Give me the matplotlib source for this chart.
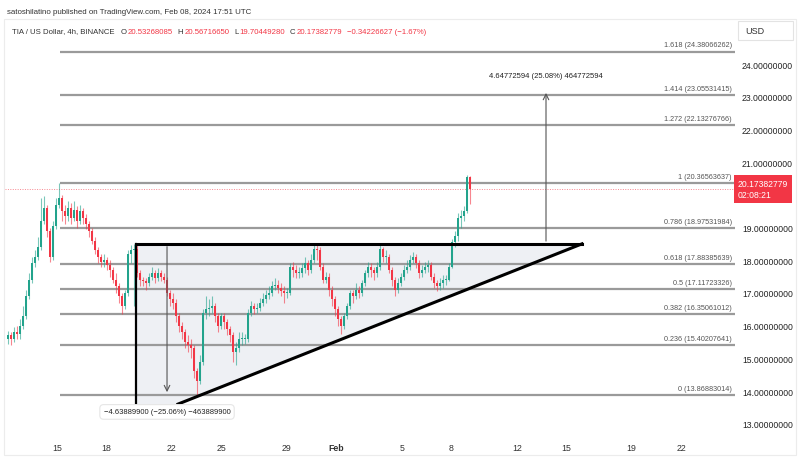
import matplotlib.pyplot as plt
import numpy as np
from matplotlib.patches import Polygon, Rectangle

plt.rcParams['font.family'] = ['Liberation Sans', 'DejaVu Sans']

# 4h candles, TIA/USD
closes = [15.7, 15.6, 15.8, 15.75, 16.0, 16.3, 16.9, 17.4, 17.9,
          18.1, 18.4, 19.2, 19.6, 18.9, 18.1, 19.05, 19.7,
          19.9, 19.5, 19.35, 19.6, 19.3, 19.55, 19.2, 19.5, 19.3, 19.1,
          18.9, 18.6, 18.3, 18.1, 17.95, 18.0, 17.85, 17.7, 17.4, 17.2,
          16.9, 16.6, 17.0, 18.2, 18.3, 18.35, 17.6, 17.4, 17.35, 17.3,
          17.5, 17.6, 17.45, 17.6, 17.5, 17.4, 17.0, 16.8, 16.7, 16.3,
          16.0, 15.8, 15.5, 15.4, 15.3, 14.6, 14.3, 14.9, 16.4, 16.5,
          16.55, 16.6, 16.3, 16.0, 16.3, 16.1, 15.9, 15.7, 15.2, 15.3,
          15.6, 15.6, 15.6, 16.4, 16.6, 16.5, 16.55, 16.7, 16.8, 16.95,
          17.0, 17.2, 17.25, 17.15, 17.05, 17.0, 17.0, 17.8, 17.7, 17.6,
          17.6, 17.75, 17.9, 17.7, 18.0, 18.35, 18.3, 17.8, 17.4, 17.5,
          17.1, 16.8, 16.5, 16.2, 16.0, 16.3, 16.6, 17.0, 16.9, 17.1,
          17.0, 17.3, 17.6, 17.8, 17.7, 17.6, 17.8, 18.35, 18.1, 18.1,
          17.7, 17.4, 17.1, 17.3, 17.5, 17.7, 17.8, 18.0, 18.1, 17.9,
          17.6, 17.7, 17.8, 17.85, 17.5, 17.3, 17.2, 17.3, 17.4, 17.4,
          17.8, 18.55, 18.75, 19.3, 19.35, 19.5, 20.53, 20.17382779]
highs = [15.85, 15.8, 15.95, 16.0, 16.2, 16.6, 17.1, 17.6, 18.1,
         18.3, 18.7, 19.9, 19.95, 19.7, 19.0, 19.2, 19.9,
         20.37, 20.0, 19.7, 19.8, 19.75, 19.8, 19.65, 19.7, 19.6, 19.4,
         19.2, 19.0, 18.7, 18.4, 18.2, 18.2, 18.1, 18.0, 17.8, 17.6,
         17.3, 17.0, 17.1, 18.3, 18.45, 18.5, 18.5, 17.7, 17.5, 17.45,
         17.6, 17.8, 17.7, 17.75, 17.7, 17.6, 17.5, 17.1, 17.0, 16.8,
         16.4, 16.1, 15.9, 15.7, 15.6, 15.4, 14.7, 15.1, 16.5, 16.9,
         16.8, 16.9, 16.7, 16.4, 16.4, 16.4, 16.2, 16.0, 15.8, 15.5,
         15.8, 15.8, 15.75, 16.5, 16.75, 16.7, 16.7, 16.85, 17.0, 17.1,
         17.2, 17.35, 17.45, 17.4, 17.3, 17.2, 17.15, 17.9, 17.95, 17.85,
         17.8, 17.9, 18.1, 18.0, 18.2, 18.5, 18.5, 18.4, 17.9, 17.65,
         17.6, 17.2, 16.9, 16.6, 16.3, 16.4, 16.7, 17.1, 17.1, 17.3,
         17.2, 17.4, 17.7, 17.95, 17.9, 17.8, 17.95, 18.45, 18.4, 18.3,
         18.2, 17.8, 17.5, 17.45, 17.6, 17.85, 18.0, 18.15, 18.25, 18.2,
         18.0, 17.85, 17.95, 18.0, 17.95, 17.6, 17.4, 17.45, 17.55, 17.55,
         17.9, 18.65, 18.9, 19.45, 19.55, 19.65, 20.6, 20.5671665]
lows = [15.45, 15.4, 15.5, 15.6, 15.6, 15.9, 16.2, 16.8, 17.3,
        17.8, 18.0, 18.3, 19.1, 18.7, 17.95, 18.0, 18.95,
        19.6, 19.2, 19.1, 19.2, 19.1, 19.2, 19.0, 19.1, 19.1, 18.95,
        18.7, 18.5, 18.2, 17.9, 17.8, 17.8, 17.7, 17.5, 17.3, 17.0,
        16.7, 16.35, 16.5, 16.9, 17.9, 16.6, 17.5, 17.2, 17.2, 17.1,
        17.2, 17.4, 17.3, 17.35, 17.35, 17.3, 16.9, 16.6, 16.5, 16.1,
        15.8, 15.6, 15.3, 15.2, 15.0, 14.4, 13.87, 14.2, 14.8, 16.2,
        16.3, 16.4, 16.1, 15.8, 15.9, 15.9, 15.7, 15.5, 14.9, 14.8,
        15.2, 15.4, 15.45, 15.5, 16.3, 16.35, 16.4, 16.45, 16.6, 16.7,
        16.8, 16.9, 17.1, 17.0, 16.9, 16.7, 16.85, 16.95, 17.5, 17.45,
        17.45, 17.5, 17.6, 17.55, 17.6, 17.9, 18.0, 17.7, 17.3, 17.3,
        16.9, 16.6, 16.3, 16.0, 15.75, 15.9, 16.2, 16.5, 16.7, 16.8,
        16.85, 16.9, 17.2, 17.5, 17.5, 17.4, 17.5, 17.7, 17.95, 17.9,
        17.6, 17.2, 16.9, 17.0, 17.2, 17.4, 17.6, 17.7, 17.9, 17.75,
        17.45, 17.5, 17.6, 17.65, 17.4, 17.15, 17.05, 17.1, 17.15, 17.25,
        17.35, 17.75, 18.4, 18.6, 19.0, 19.2, 19.45, 19.7044928]
first_open = 15.6

# Fibonacci retracement levels
fib_ratios = ['0', '0.236', '0.382', '0.5', '0.618', '0.786', '1', '1.272', '1.414', '1.618']
fib_prices = [13.86883014, 15.40207641, 16.35061012, 17.11723326, 17.88385639,
              18.97531984, 20.36563637, 22.13276766, 23.05531415, 24.38066262]

last_price = 20.17382779
resistance = 18.5
price_ticks = [13, 14, 15, 16, 17, 18, 19, 21, 22, 23, 24]
# days counted from Jan 15
date_ticks = [0, 3, 7, 10, 14, 17, 21, 24, 28, 31, 35, 38]
date_labels = ['15', '18', '22', '25', '29', 'Feb', '5', '8', '12', '15', '19', '22']

c = np.array(closes)
o = np.concatenate([[first_open], c[:-1]])
h = np.array(highs)
l = np.array(lows)
t = np.linspace(-2.98, 25.15, len(c))

up_col, dn_col = '#22a38c', '#f23645'
cols = np.where(c >= o, up_col, dn_col)

fig = plt.figure(figsize=(8, 4.6), dpi=100)
ax = fig.add_axes([5 / 800, 23 / 460, 730 / 800, 415 / 460])
ax.set_xlim(-3.167, 41.29)
ax.set_ylim(12.624, 25.315)

# triangle pattern shading
tri = Polygon([(4.81, resistance), (31.97, resistance), (7.37, 13.6), (4.81, 13.6)],
              closed=True, facecolor='#eef0f4', edgecolor='none', zorder=0)
ax.add_patch(tri)

# fib levels
for r, p in zip(fib_ratios, fib_prices):
    ax.plot([0.18, 41.29], [p, p], color='#9a9a9a', lw=1.6, zorder=1,
            solid_capstyle='butt')
    ax.text(41.1, p + 0.1, f'{r} ({p:.8f})', ha='right', va='bottom',
            fontsize=5.2, color='#555555', zorder=5)

# last price dotted line
ax.axhline(last_price, color='#f23645', lw=0.7, ls=(0, (1, 1.5)), alpha=0.6, zorder=1)

# candles
ax.vlines(t, l, h, colors=cols, lw=0.8, alpha=0.6, zorder=2)
body = np.where(np.abs(c - o) < 0.03, 0.03, c - o)
ax.bar(t, body, bottom=o, width=0.14, color=cols, zorder=3, linewidth=0)

# triangle outline
ax.plot([4.81, 31.97], [resistance, resistance], color='black', lw=2.2, zorder=4)
ax.plot([4.81, 4.81], [resistance, 13.6], color='black', lw=1.6, zorder=4)
ax.plot([7.37, 31.97], [13.6, resistance], color='black', lw=2.2, zorder=4)

# measure arrows
ax.annotate('', xy=(6.7, 13.88), xytext=(6.7, resistance),
            arrowprops=dict(arrowstyle='->', color='#555555', lw=0.8), zorder=4)
ax.text(6.7, 13.36, '\u22124.63889900 (\u221225.06%) \u2212463889900', ha='center', va='center',
        fontsize=5.5, color='#222222', zorder=6,
        bbox=dict(boxstyle='round,pad=0.5', fc='white', ec='#e6e6e6', lw=0.8))
ax.annotate('', xy=(29.78, 23.2), xytext=(29.78, resistance),
            arrowprops=dict(arrowstyle='->', color='#555555', lw=0.8), zorder=4)
ax.text(29.78, 23.66, '4.64772594 (25.08%) 464772594', ha='center', va='center',
        fontsize=5.5, color='#222222', zorder=6)

# axes
ax.yaxis.tick_right()
ax.set_yticks(price_ticks)
ax.set_yticklabels([f'{p:.8f}' for p in price_ticks], fontsize=6.2, color='#222222')
ax.set_xticks(date_ticks)
ax.set_xticklabels(date_labels, fontsize=6.3, color='#333333')
for lab in ax.get_xticklabels():
    if lab.get_text() == 'Feb':
        lab.set_fontweight('bold')
ax.tick_params(axis='y', length=0, pad=5)
ax.tick_params(axis='x', length=0, pad=5)
for s in ax.spines.values():
    s.set_visible(False)

# current price tag
ax.text(1.004, (last_price - 12.624) / (25.315 - 12.624), '20.17382779\n02:08:21',
        transform=ax.transAxes, ha='left', va='center', fontsize=6.2, color='white',
        linespacing=1.35, zorder=7,
        bbox=dict(boxstyle='square,pad=0.4', fc='#f23645', ec='none'))

# header texts
fig.text(7 / 800, 1 - 12 / 460, 'satoshilatino published on TradingView.com, Feb 08, 2024 17:51 UTC',
         fontsize=5.7, color='#333333', va='center')
hdr_y = 1 - 32 / 460
parts = [('TIA / US Dollar, 4h, BINANCE', '#333333', 6), ('O', '#333333', 1),
         ('20.53268085', dn_col, 5), ('H', '#333333', 1), ('20.56716650', dn_col, 5),
         ('L', '#333333', 1), ('19.70449280', dn_col, 5), ('C', '#333333', 1),
         ('20.17382779', dn_col, 5), ('\u22120.34226627 (\u22121.67%)', dn_col, 0)]
renderer = fig.canvas.get_renderer()
px = 12
for s, col, gap in parts:
    txt = fig.text(px / 800, hdr_y, s, fontsize=5.6, color=col, va='center')
    bb = txt.get_window_extent(renderer)
    px = bb.x1 + gap

fig.text(745 / 800, hdr_y, 'USD', fontsize=6.5, color='#333333', va='center')
fig.patches.append(Rectangle((738 / 800, 1 - 41 / 460), 55 / 800, 19 / 460,
                             transform=fig.transFigure, fc='none', ec='#e3e3e3', lw=0.8))
fig.patches.append(Rectangle((4 / 800, 4 / 460), 792 / 800, 436 / 460,
                             transform=fig.transFigure, fc='none', ec='#ececec', lw=0.8))

fig.savefig('out.png', dpi=100)
